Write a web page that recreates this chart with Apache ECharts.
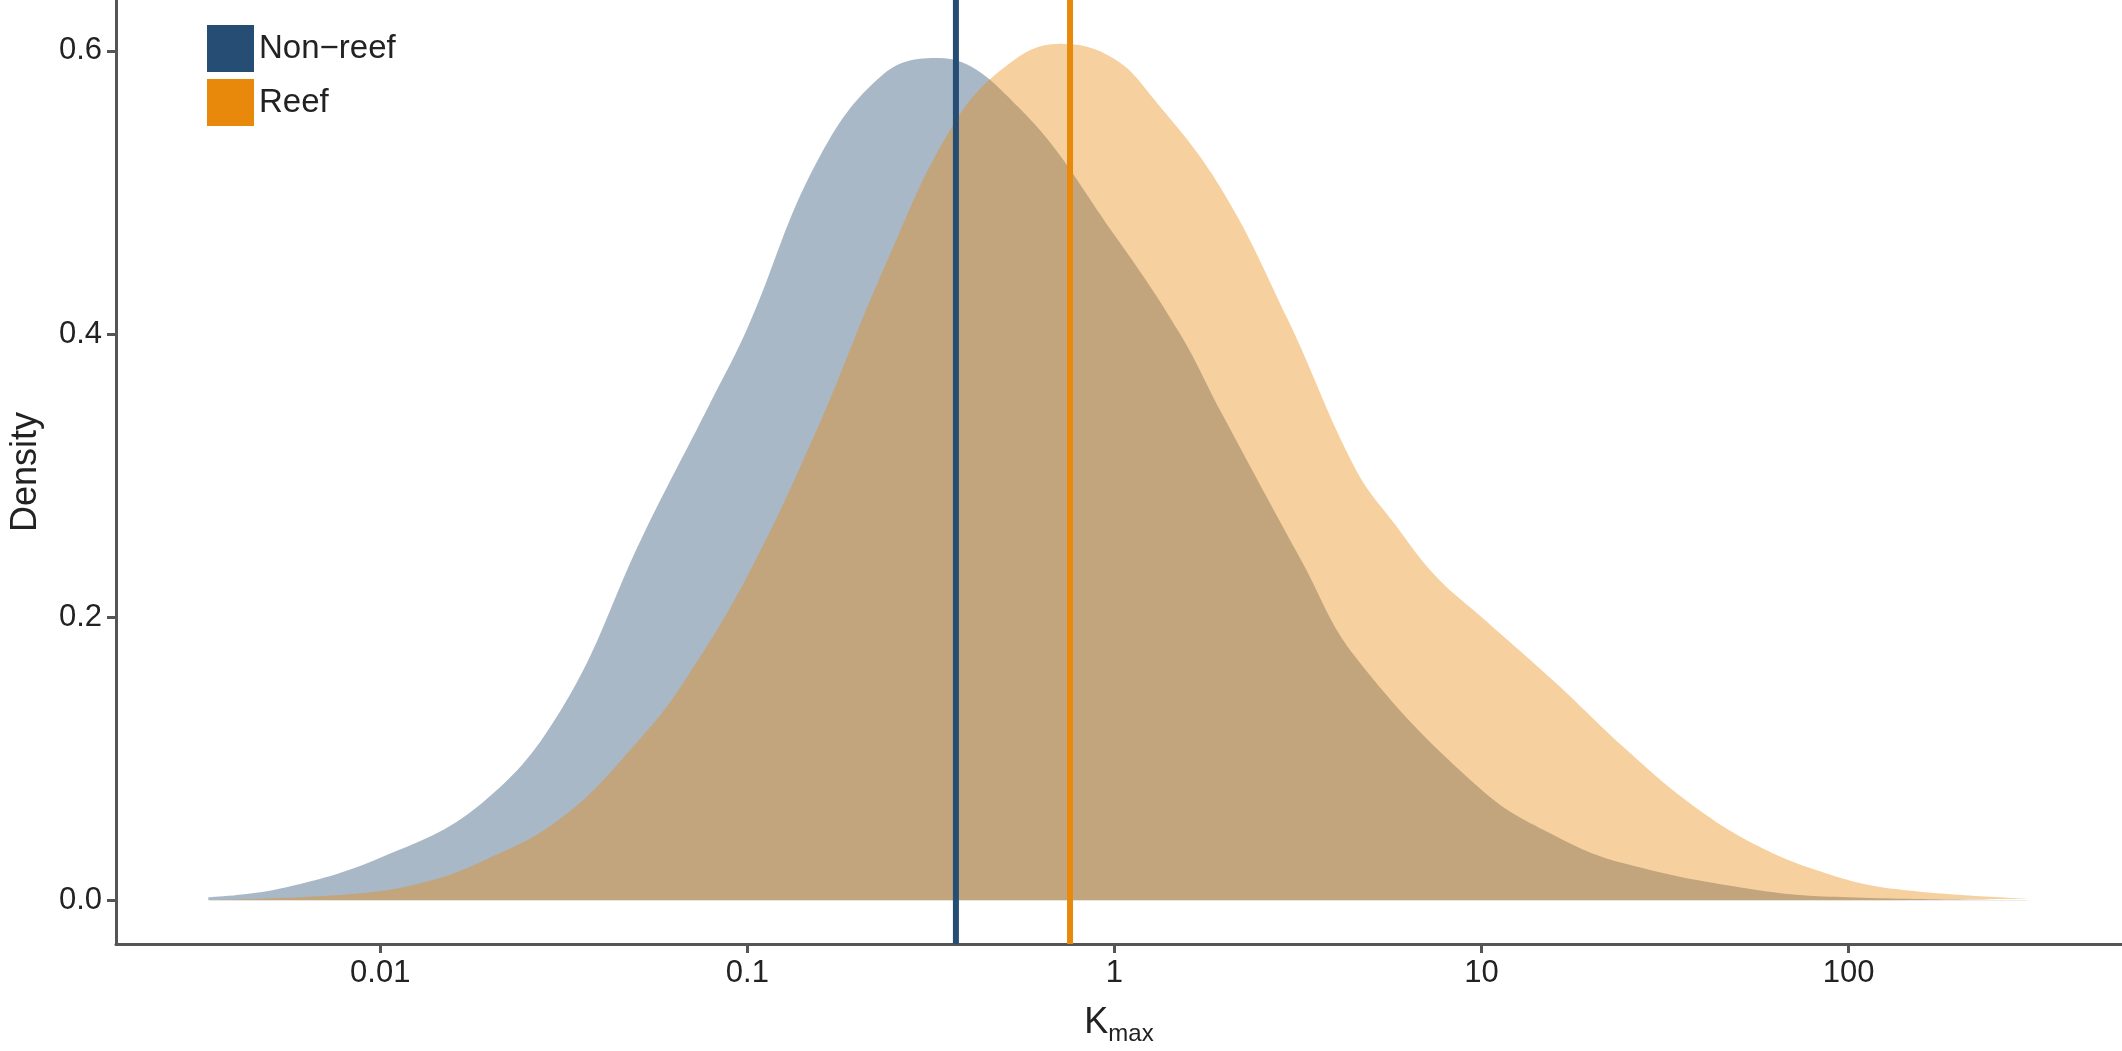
<!DOCTYPE html>
<html><head><meta charset="utf-8">
<script src="https://cdn.jsdelivr.net/npm/echarts@6/dist/echarts.min.js"></script>
<style>html,body{margin:0;padding:0;background:#fff}#c{width:2122px;height:1051px}</style>
</head><body><div id="c"></div>
<script>
const nonReefX = [0.0034,0.0053,0.01,0.0188,0.0315,0.0518,0.0788,0.1,0.155,0.236,0.331,0.549,1,1.51,1.95,3.23,4.53,10,16.0,24.4,56.9,100,307];
const nonReefY = [0.002,0.008,0.030,0.068,0.137,0.257,0.35,0.404,0.522,0.584,0.595,0.560,0.47,0.40,0.345,0.24,0.172,0.078,0.045,0.026,0.007,0.002,0.0];
const reefX = [0.0034,0.0081,0.0124,0.0188,0.0315,0.0518,0.0667,0.1,0.155,0.236,0.360,0.505,0.708,0.99,1.29,1.95,2.97,4.53,5.83,7.50,10,16.0,24.4,37.2,56.9,86.7,132,307];
const reefY = [0,0.004,0.011,0.027,0.059,0.116,0.153,0.229,0.333,0.447,0.546,0.589,0.605,0.595,0.565,0.503,0.41,0.305,0.265,0.229,0.200,0.153,0.108,0.068,0.038,0.019,0.008,0.001];
const medians = {nonReef:0.37, reef:0.757};
const yTicks = [0.0,0.2,0.4,0.6];
const xTicks = [0.01,0.1,1,10,100];
const blue = '#264D73', orange = '#E8890C';
const yMin=-0.031, yMax=0.636;
const zip=(a,b)=>a.map((v,i)=>[v,b[i]]);
const chart = echarts.init(document.getElementById('c'));
chart.setOption({
  animation:false,
  grid:{left:106,right:0,top:0,bottom:98},
  legend:{orient:'vertical',left:202,top:20,itemWidth:47,itemHeight:47,itemGap:7,icon:'rect',
    textStyle:{fontSize:33,color:'#222',fontFamily:'Liberation Sans, Arial'},
    data:[{name:'Non\u2212reef',itemStyle:{color:blue,opacity:1}},{name:'Reef',itemStyle:{color:orange,opacity:1}}]},
  xAxis:{type:'log',logBase:10,min:Math.pow(10,-2.72),max:Math.pow(10,2.745),
    name:'{k|K}{s|max}',nameLocation:'middle',nameGap:56,
    nameTextStyle:{rich:{k:{fontSize:36,color:'#222',fontFamily:'Liberation Sans, Arial'},s:{fontSize:24,color:'#222',verticalAlign:'bottom',padding:[22,0,0,0],fontFamily:'Liberation Sans, Arial'}}},
    axisLine:{onZero:false,lineStyle:{color:'#555',width:3}},
    axisTick:{length:9,lineStyle:{color:'#555',width:3}},
    splitLine:{show:false},minorTick:{show:false},
    axisLabel:{fontSize:31,color:'#222',margin:14,fontFamily:'Liberation Sans, Arial',showMinLabel:false,showMaxLabel:false,
      formatter:v=>{const t=xTicks.find(x=>Math.abs(Math.log10(x)-Math.log10(v))<1e-6);return t===undefined?'':String(t);}}},
  yAxis:{type:'value',min:yMin,max:yMax,
    name:'Density',nameLocation:'middle',nameGap:72,
    nameTextStyle:{fontSize:36,color:'#222',fontFamily:'Liberation Sans, Arial'},
    axisLine:{show:true,onZero:false,lineStyle:{color:'#555',width:3}},
    axisTick:{show:true,length:9,lineStyle:{color:'#555',width:3},customValues:yTicks},
    splitLine:{show:false},
    axisLabel:{fontSize:31,color:'#222',margin:14,fontFamily:'Liberation Sans, Arial',customValues:yTicks,formatter:v=>v.toFixed(1)}},
  series:[
    {name:'Non\u2212reef',type:'line',smooth:0.4,showSymbol:false,data:zip(nonReefX,nonReefY),
      lineStyle:{width:0},itemStyle:{color:blue},areaStyle:{color:blue,opacity:0.4,origin:0},z:2},
    {name:'Reef',type:'line',smooth:0.4,showSymbol:false,data:zip(reefX,reefY),
      lineStyle:{width:0},itemStyle:{color:orange},areaStyle:{color:orange,opacity:0.4,origin:0},z:3},
    {type:'line',showSymbol:false,data:[[medians.nonReef,yMin],[medians.nonReef,yMax]],lineStyle:{color:blue,width:6},z:5},
    {type:'line',showSymbol:false,data:[[medians.reef,yMin],[medians.reef,yMax]],lineStyle:{color:orange,width:6},z:5}
  ]
});
</script></body></html>
